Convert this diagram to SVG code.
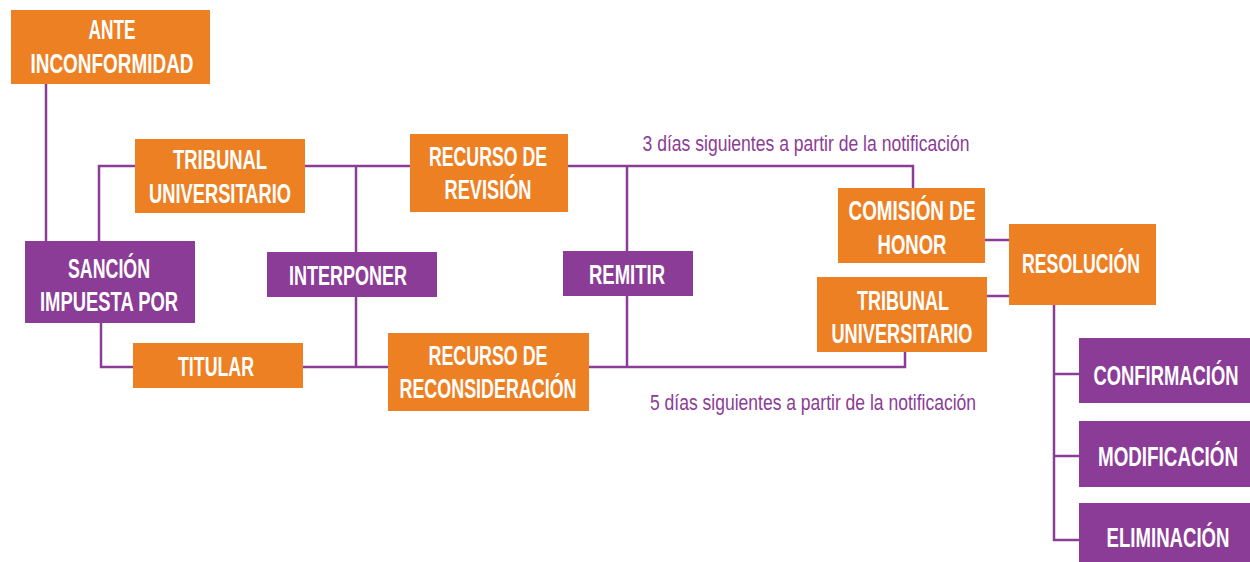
<svg xmlns="http://www.w3.org/2000/svg" width="1250" height="562" viewBox="0 0 1250 562">
<style>
.o{fill:#EE8024}
.p{fill:#8B3C96}
.t{font-family:"Liberation Sans",Arial,sans-serif;font-size:27px;font-weight:bold;fill:#fff;text-anchor:middle}
.n{font-family:"Liberation Sans",Arial,sans-serif;font-size:22px;fill:#8B3C96;text-anchor:middle}
.c{fill:none;stroke:#8B3C96;stroke-width:2.5}
</style>
<rect width="1250" height="562" fill="#fff"/>
<g id="connectors" class="c">
<path d="M46 84V241"/>
<path d="M99 241V166H135"/>
<path d="M101 323V367H133"/>
<path d="M305 166H410"/>
<path d="M303 367H388"/>
<path d="M356 166V367"/>
<path d="M568 166H913V188"/>
<path d="M589 367H905V352"/>
<path d="M627 166V367"/>
<path d="M985 240H1009"/>
<path d="M987 296H1009"/>
<path d="M1054 305V540H1079"/>
<path d="M1054 374H1079"/>
<path d="M1054 456H1079"/>
</g>
<g id="ante"><rect class="o" x="11" y="10" width="199" height="74"/><text class="t" x="112" y="39" textLength="47" lengthAdjust="spacingAndGlyphs">ANTE</text><text class="t" x="112" y="73" textLength="163" lengthAdjust="spacingAndGlyphs">INCONFORMIDAD</text></g>
<g id="tribunal1"><rect class="o" x="135" y="139" width="170" height="74"/><text class="t" x="220" y="169" textLength="94" lengthAdjust="spacingAndGlyphs">TRIBUNAL</text><text class="t" x="220" y="203" textLength="142" lengthAdjust="spacingAndGlyphs">UNIVERSITARIO</text></g>
<g id="sancion"><rect class="p" x="25" y="241" width="170" height="82"/><text class="t" x="109" y="278" textLength="82" lengthAdjust="spacingAndGlyphs">SANCIÓN</text><text class="t" x="109" y="311" textLength="138" lengthAdjust="spacingAndGlyphs">IMPUESTA POR</text></g>
<g id="titular"><rect class="o" x="133" y="343" width="170" height="45"/><text class="t" x="216" y="376" textLength="76" lengthAdjust="spacingAndGlyphs">TITULAR</text></g>
<g id="revision"><rect class="o" x="410" y="134" width="158" height="78"/><text class="t" x="488" y="166" textLength="118" lengthAdjust="spacingAndGlyphs">RECURSO DE</text><text class="t" x="488" y="199" textLength="87" lengthAdjust="spacingAndGlyphs">REVISIÓN</text></g>
<g id="interponer"><rect class="p" x="267" y="252" width="170" height="45"/><text class="t" x="348" y="285" textLength="118" lengthAdjust="spacingAndGlyphs">INTERPONER</text></g>
<g id="reconsideracion"><rect class="o" x="388" y="333" width="201" height="78"/><text class="t" x="488" y="365" textLength="119" lengthAdjust="spacingAndGlyphs">RECURSO DE</text><text class="t" x="488" y="398" textLength="177" lengthAdjust="spacingAndGlyphs">RECONSIDERACIÓN</text></g>
<g id="remitir"><rect class="p" x="563" y="251" width="130" height="45"/><text class="t" x="627" y="284" textLength="76" lengthAdjust="spacingAndGlyphs">REMITIR</text></g>
<g id="comision"><rect class="o" x="838" y="188" width="147" height="75"/><text class="t" x="912" y="220" textLength="127" lengthAdjust="spacingAndGlyphs">COMISIÓN DE</text><text class="t" x="912" y="254" textLength="69" lengthAdjust="spacingAndGlyphs">HONOR</text></g>
<g id="tribunal2"><rect class="o" x="817" y="277" width="170" height="75"/><text class="t" x="903" y="310" textLength="92" lengthAdjust="spacingAndGlyphs">TRIBUNAL</text><text class="t" x="902" y="343" textLength="141" lengthAdjust="spacingAndGlyphs">UNIVERSITARIO</text></g>
<g id="resolucion"><rect class="o" x="1009" y="224" width="147" height="81"/><text class="t" x="1081" y="273" textLength="118" lengthAdjust="spacingAndGlyphs">RESOLUCIÓN</text></g>
<g id="confirmacion"><rect class="p" x="1079" y="338" width="171" height="65"/><text class="t" transform="translate(1166 385) scale(0.69 1)" x="0" y="0" textLength="210" lengthAdjust="spacingAndGlyphs">CONFIRMACIÓN</text></g>
<g id="modificacion"><rect class="p" x="1079" y="421" width="171" height="66"/><text class="t" transform="translate(1168 466) scale(0.69 1)" x="0" y="0" textLength="203" lengthAdjust="spacingAndGlyphs">MODIFICACIÓN</text></g>
<g id="eliminacion"><rect class="p" x="1079" y="503" width="171" height="59"/><text class="t" transform="translate(1168 547) scale(0.69 1)" x="0" y="0" textLength="178" lengthAdjust="spacingAndGlyphs">ELIMINACIÓN</text></g>
<g id="labels">
<text class="n" x="806" y="151" textLength="327" lengthAdjust="spacingAndGlyphs">3 días siguientes a partir de la notificación</text>
<text class="n" x="813" y="410" textLength="326" lengthAdjust="spacingAndGlyphs">5 días siguientes a partir de la notificación</text>
</g>
</svg>
